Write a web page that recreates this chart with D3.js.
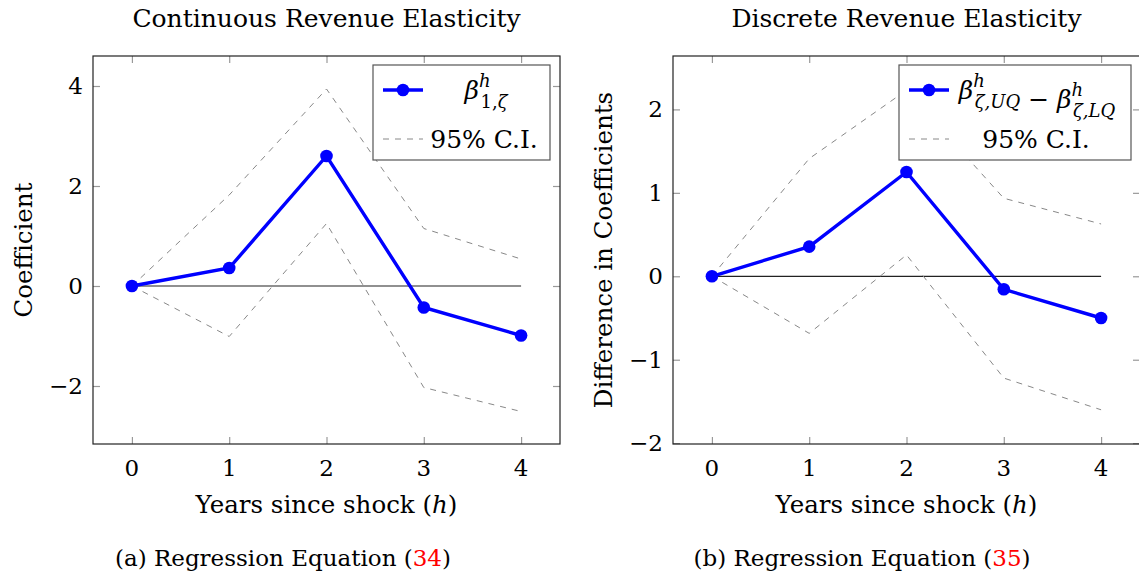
<!DOCTYPE html>
<meta charset="utf-8">
<style>
body { margin: 0; background: #fff; }
svg text { font-family: "DejaVu Serif", serif; fill: #000; }
.frame { fill: none; stroke: #222; stroke-width: 1.2; }
.tick line { stroke: #999; stroke-width: 1.2; }
.zero { stroke: #222; stroke-width: 1.2; }
.ci { fill: none; stroke: #888; stroke-width: 1; stroke-dasharray: 6,6; }
.est { fill: none; stroke: #0000ff; stroke-width: 3.4; }
.dot { fill: #0000ff; }
.legend rect { fill: #fff; stroke: #555; stroke-width: 1.2; }
</style>
<svg id="plot" width="1139" height="583"></svg>
<script src="https://d3js.org/d3.v7.min.js"></script>
<script>

// data
var horizons = [0, 1, 2, 3, 4];

var contEst   = [0, 0.36, 2.60, -0.43, -0.99];
var contUpper = [0, 1.82, 3.94, 1.15, 0.54];
var contLower = [0, -1.01, 1.25, -2.03, -2.51];
var contYTicks = [-2, 0, 2, 4];

var discEst   = [0, 0.355, 1.25, -0.156, -0.50];
var discUpper = [0, 1.41, 2.23, 0.935, 0.627];
var discLower = [0, -0.684, 0.256, -1.22, -1.60];
var discYTicks = [-2, -1, 0, 1, 2];

var svg = d3.select("svg");
var fs = 23;

function panel(opt) {
  var x = d3.scaleLinear().domain([-0.4, 4.4]).range([opt.left, opt.right]);
  var y = d3.scaleLinear().domain(opt.ydom).range([444, 56]);
  var g = svg.append("g");

  // inside ticks on all four sides
  g.append("g").attr("class", "tick").attr("transform", "translate(0,444)")
    .call(d3.axisBottom(x).tickValues(horizons).tickSizeInner(-7).tickSizeOuter(0).tickFormat(""))
    .select(".domain").remove();
  g.append("g").attr("class", "tick").attr("transform", "translate(0,56)")
    .call(d3.axisTop(x).tickValues(horizons).tickSizeInner(-7).tickSizeOuter(0).tickFormat(""))
    .select(".domain").remove();
  g.append("g").attr("class", "tick").attr("transform", "translate(" + opt.left + ",0)")
    .call(d3.axisLeft(y).tickValues(opt.yticks).tickSizeInner(-7).tickSizeOuter(0).tickFormat(""))
    .select(".domain").remove();
  g.append("g").attr("class", "tick").attr("transform", "translate(" + opt.right + ",0)")
    .call(d3.axisRight(y).tickValues(opt.yticks).tickSizeInner(-7).tickSizeOuter(0).tickFormat(""))
    .select(".domain").remove();
  g.selectAll(".tick text").remove();

  g.append("rect").attr("class", "frame")
    .attr("x", opt.left).attr("y", 56)
    .attr("width", opt.right - opt.left).attr("height", 388);

  // tick labels
  g.selectAll(".xl").data(horizons).enter().append("text")
    .attr("x", function(d) { return x(d); }).attr("y", 476)
    .attr("text-anchor", "middle").style("font-size", fs + "px")
    .text(function(d) { return d; });
  g.selectAll(".yl").data(opt.yticks).enter().append("text")
    .attr("x", opt.left - 10).attr("y", function(d) { return y(d) + 8; })
    .attr("text-anchor", "end").style("font-size", fs + "px")
    .text(function(d) { return d < 0 ? "\u2212" + (-d) : d; });

  // zero line
  g.append("line").attr("class", "zero")
    .attr("x1", x(0)).attr("x2", x(4)).attr("y1", y(0)).attr("y2", y(0));

  var line = d3.line()
    .x(function(d, i) { return x(horizons[i]); })
    .y(function(d) { return y(d); });

  g.append("path").attr("class", "ci").attr("d", line(opt.upper));
  g.append("path").attr("class", "ci").attr("d", line(opt.lower));
  g.append("path").attr("class", "est").attr("d", line(opt.est));
  g.selectAll(".dot").data(opt.est).enter().append("circle")
    .attr("class", "dot").attr("r", 6.3)
    .attr("cx", function(d, i) { return x(horizons[i]); })
    .attr("cy", function(d) { return y(d); });

  // titles and labels
  var cx = (opt.left + opt.right) / 2;
  svg.append("text").attr("x", cx).attr("y", 27).attr("text-anchor", "middle")
    .style("font-size", "25px").text(opt.title);
  svg.append("text").attr("x", cx).attr("y", 513).attr("text-anchor", "middle")
    .style("font-size", "24.5px")
    .call(function(t) {
      t.append("tspan").text("Years since shock (");
      t.append("tspan").style("font-style", "italic").text("h");
      t.append("tspan").text(")");
    });
  svg.append("text")
    .attr("transform", "translate(" + opt.ylabX + ",250) rotate(-90)")
    .attr("text-anchor", "middle").style("font-size", "24.5px").text(opt.ylab);
  svg.append("text").attr("x", opt.capX).attr("y", 566).attr("text-anchor", "middle")
    .style("font-size", "23px")
    .call(function(t) {
      t.append("tspan").text(opt.cap + " Regression Equation (");
      t.append("tspan").style("fill", "#ff0000").text(opt.eq);
      t.append("tspan").text(")");
    });

  // legend
  var lg = g.append("g").attr("class", "legend");
  lg.append("rect").attr("x", opt.lgX).attr("y", 65).attr("width", opt.lgW).attr("height", 95);
  var sx = opt.lgX + 10;
  lg.append("line").attr("x1", sx).attr("x2", sx + 40).attr("y1", 90).attr("y2", 90)
    .attr("stroke", "#0000ff").attr("stroke-width", 3.4);
  lg.append("circle").attr("class", "dot").attr("cx", sx + 20).attr("cy", 90).attr("r", 6.3);
  lg.append("line").attr("class", "ci").attr("x1", sx).attr("x2", sx + 40).attr("y1", 139).attr("y2", 139);
  var t1 = lg.append("text").attr("x", opt.lgTextX).attr("y", 99).attr("text-anchor", "middle")
    .style("font-size", "25px");
  opt.symbol(t1);
  lg.append("text").attr("x", opt.ciTextX).attr("y", 148).attr("text-anchor", "middle")
    .style("font-size", "25px").text("95% C.I.");
}

function beta(t, sub) {
  t.append("tspan").style("font-style", "italic").text("\u03b2");
  t.append("tspan").attr("dy", -12).style("font-size", "18px").style("font-style", "italic").text("h");
  var s = t.append("tspan").attr("dx", -10).attr("dy", 21).style("font-size", "18px");
  sub(s);
  t.append("tspan").attr("dy", -9).text("");
}

panel({
  left: 93, right: 560, ydom: [-3.16, 4.6], yticks: contYTicks,
  est: contEst, upper: contUpper, lower: contLower,
  title: "Continuous Revenue Elasticity", ylab: "Coefficient", ylabX: 32,
  cap: "(a)", eq: "34", capX: 283,
  lgX: 373, lgW: 177, lgTextX: 486, ciTextX: 484,
  symbol: function(t) {
    beta(t, function(s) {
      s.append("tspan").text("1,");
      s.append("tspan").style("font-style", "italic").text("\u03b6");
    });
  }
});

panel({
  left: 673, right: 1140, ydom: [-2.01, 2.64], yticks: discYTicks,
  est: discEst, upper: discUpper, lower: discLower,
  title: "Discrete Revenue Elasticity", ylab: "Difference in Coefficients", ylabX: 612,
  cap: "(b)", eq: "35", capX: 862,
  lgX: 899, lgW: 232, lgTextX: 1037, ciTextX: 1036,
  symbol: function(t) {
    beta(t, function(s) {
      s.append("tspan").style("font-style", "italic").text("\u03b6,UQ");
    });
    t.append("tspan").text(" \u2212 ");
    beta(t, function(s) {
      s.append("tspan").style("font-style", "italic").text("\u03b6,LQ");
    });
  }
});

</script>
